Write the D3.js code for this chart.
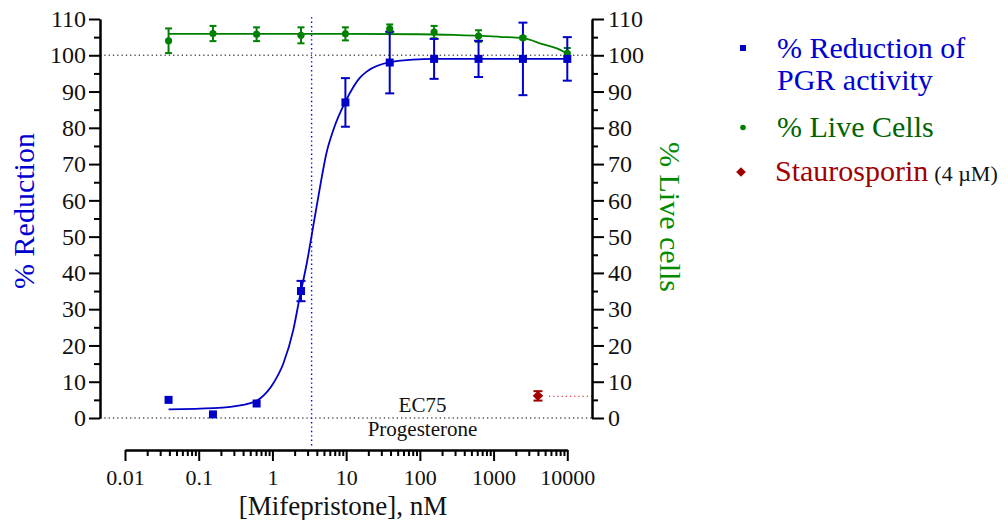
<!DOCTYPE html>
<html>
<head>
<meta charset="utf-8">
<script src="https://cdn.jsdelivr.net/npm/d3@7"></script>
<style>
  body { margin: 0; background: #fff; }
  svg text { font-family: "Liberation Serif", "Times New Roman", Times, "DejaVu Serif", serif !important; }
</style>
</head>
<body>
<div id="chart"></div>
<script>
const width = 1008, height = 520;

// concentrations (nM), 4-fold dilution series
const conc = [0.039, 0.156, 0.61, 2.44, 9.77, 39, 156, 625, 2500, 10000];
const reduction = [5, 1, 4, 35, 87, 98, 99, 99, 99, 99];
const reductionErr = [0, 0, 0, 2.8, 6.7, 8.5, 5.5, 5, 10, 6];
const liveCells = [104, 106, 105.8, 105.5, 105.9, 107.3, 106.4, 105.3, 104.8, 100.5];
const liveErr = [3.4, 2.1, 1.9, 2.2, 1.8, 1.2, 1.7, 1.6, 0.4, 1.5];

// fitted curves
const fitRedX = [0.039, 0.16, 0.4, 0.68, 1.03, 1.41, 1.92, 2.35, 2.92, 3.7, 4.43, 5.4, 6.7, 9.77, 15.5, 19, 39, 80, 156, 10000];
const fitRedY = [2.4, 2.7, 3.6, 5.4, 9.6, 15.1, 24.3, 33.4, 42.6, 54.6, 63.8, 73, 79.4, 87.2, 93.9, 95.5, 98.1, 98.8, 99, 99];
const fitLiveX = [0.039, 10, 100, 300, 625, 1200, 2500, 4740, 7200, 10000];
const fitLiveY = [105.9, 105.9, 105.8, 105.6, 105.4, 105.1, 104.7, 103.0, 101.9, 100.5];

// staurosporin control
const stauroConc = [4000];
const stauroVal = [6.1];
const stauroErr = [1.3];

const ec50 = 3.4;
const refLines = [0, 100];

const xTicks = [0.01, 0.1, 1, 10, 100, 1000, 10000];
const xTickLabels = ["0.01", "0.1", "1", "10", "100", "1000", "10000"];
const yTicks = [0, 10, 20, 30, 40, 50, 60, 70, 80, 90, 100, 110];

const blue = "#0000c8", green = "#008000", red = "#a00000";
const diamond = d3.symbolDiamond2 || d3.symbolDiamond;

const x = d3.scaleLog().domain([0.01, 10000]).range([125, 567.3]);
const y = d3.scaleLinear().domain([0, 110]).range([418, 19]);
const leftX = 100, rightX = 592, axisY = 450;

const svg = d3.select("#chart").append("svg")
  .attr("width", width).attr("height", height);

// reference lines
svg.selectAll(".ref").data(refLines).join("line")
  .attr("x1", leftX).attr("x2", rightX)
  .attr("y1", d => y(d)).attr("y2", d => y(d))
  .attr("stroke", "#555").attr("stroke-width", 1.3).attr("stroke-dasharray", "1.3,3");
svg.append("line")
  .attr("x1", x(ec50)).attr("x2", x(ec50))
  .attr("y1", y(110.5)).attr("y2", axisY - 3)
  .attr("stroke", "#0000ff").attr("stroke-width", 1.4).attr("stroke-dasharray", "1.4,3");
svg.append("line")
  .attr("x1", x(stauroConc[0]) + 11).attr("x2", rightX)
  .attr("y1", y(6)).attr("y2", y(6))
  .attr("stroke", "#d00000").attr("stroke-width", 1.2).attr("stroke-dasharray", "1.2,3");

// axes
function styleAxis(g, size) {
  g.select(".domain").attr("stroke-width", 2);
  g.selectAll(".tick line").attr("stroke-width", 2);
  g.selectAll("text").attr("font-size", size).attr("fill", "#111");
}
svg.append("g").attr("transform", `translate(${leftX},0)`)
  .call(d3.axisLeft(y).tickValues(yTicks).tickSize(11).tickSizeOuter(0).tickPadding(3))
  .call(g => styleAxis(g, 24));
svg.append("g").attr("transform", `translate(${leftX},0)`)
  .call(d3.axisLeft(y).tickValues(d3.range(5, 110, 10)).tickSize(6).tickSizeOuter(0).tickFormat(""))
  .call(g => styleAxis(g, 24));
svg.append("g").attr("transform", `translate(${rightX},0)`)
  .call(d3.axisRight(y).tickValues(yTicks).tickSize(12).tickSizeOuter(0).tickPadding(4))
  .call(g => styleAxis(g, 24));
svg.append("g").attr("transform", `translate(${rightX},0)`)
  .call(d3.axisRight(y).tickValues(d3.range(5, 110, 10)).tickSize(6).tickSizeOuter(0).tickFormat(""))
  .call(g => styleAxis(g, 24));

const minorX = [];
[0.01, 0.1, 1, 10, 100, 1000].forEach(d => { for (let k = 2; k < 10; k++) minorX.push(d * k); });
svg.append("g").attr("transform", `translate(0,${axisY})`)
  .call(d3.axisBottom(x).tickValues(xTicks).tickSize(11).tickSizeOuter(0).tickPadding(8)
    .tickFormat((d, i) => xTickLabels[i]))
  .call(g => styleAxis(g, 22));
svg.append("g").attr("transform", `translate(0,${axisY})`)
  .call(d3.axisBottom(x).tickValues(minorX).tickSize(6).tickSizeOuter(0).tickFormat(""))
  .call(g => styleAxis(g, 22));

// fitted curves
const line = d3.line().x(d => x(d[0])).y(d => y(d[1])).curve(d3.curveMonotoneX);
svg.append("path").datum(fitLiveX.map((d, i) => [d, fitLiveY[i]]))
  .attr("d", line).attr("fill", "none").attr("stroke", green).attr("stroke-width", 1.8);
svg.append("path").datum(fitRedX.map((d, i) => [d, fitRedY[i]]))
  .attr("d", line).attr("fill", "none").attr("stroke", blue).attr("stroke-width", 1.8);

// error bars
function errorBars(xs, ys, es, color, cap) {
  const data = xs.map((d, i) => ({ x: d, y: ys[i], e: es[i] })).filter(d => d.e > 0);
  const g = svg.append("g").attr("stroke", color).attr("stroke-width", 2);
  g.selectAll(".v").data(data).join("line")
    .attr("x1", d => x(d.x)).attr("x2", d => x(d.x))
    .attr("y1", d => y(d.y - d.e)).attr("y2", d => y(d.y + d.e));
  ["lo", "hi"].forEach(k => {
    g.selectAll("." + k).data(data).join("line")
      .attr("x1", d => x(d.x) - cap).attr("x2", d => x(d.x) + cap)
      .attr("y1", d => y(k === "lo" ? d.y - d.e : d.y + d.e))
      .attr("y2", d => y(k === "lo" ? d.y - d.e : d.y + d.e));
  });
}
errorBars(conc, liveCells, liveErr, green, 3.5);
errorBars(conc, reduction, reductionErr, blue, 4.5);
errorBars(stauroConc, stauroVal, stauroErr, red, 4.5);

// markers
svg.selectAll(".live").data(conc).join("circle")
  .attr("cx", d => x(d)).attr("cy", (d, i) => y(liveCells[i])).attr("r", 3.6)
  .attr("fill", green);
svg.selectAll(".red").data(conc).join("rect")
  .attr("x", d => x(d) - 4).attr("y", (d, i) => y(reduction[i]) - 4)
  .attr("width", 8).attr("height", 8).attr("fill", blue);
svg.selectAll(".stau").data(stauroConc).join("path")
  .attr("transform", (d, i) => `translate(${x(d)},${y(stauroVal[i])})`)
  .attr("d", d3.symbol(diamond, 70)()).attr("fill", red);

// annotations
svg.append("text").attr("x", 422.5).attr("y", 412).attr("text-anchor", "middle")
  .attr("font-size", 21).attr("fill", "#111").text("EC75");
svg.append("text").attr("x", 422.5).attr("y", 435.5).attr("text-anchor", "middle")
  .attr("font-size", 21).attr("fill", "#111").text("Progesterone");

// axis titles
svg.append("text").attr("x", 343).attr("y", 515).attr("text-anchor", "middle")
  .attr("font-size", 27).attr("fill", "#111").text("[Mifepristone], nM");
svg.append("text").attr("transform", "translate(34,211) rotate(-90)").attr("text-anchor", "middle")
  .attr("font-size", 30).attr("fill", "#0000d0").text("% Reduction");
svg.append("text").attr("transform", "translate(660,217) rotate(90)").attr("text-anchor", "middle")
  .attr("font-size", 30).attr("fill", "#008a00").text("% Live cells");

// legend
const lg = svg.append("g");
lg.append("rect").attr("x", 740).attr("y", 45).attr("width", 6).attr("height", 6).attr("fill", blue);
lg.append("text").attr("x", 777).attr("y", 58).attr("font-size", 30).attr("fill", "#0000d0").text("% Reduction of");
lg.append("text").attr("x", 777).attr("y", 90).attr("font-size", 30).attr("fill", "#0000d0").text("PGR activity");
lg.append("circle").attr("cx", 743).attr("cy", 127.5).attr("r", 2.8).attr("fill", green);
lg.append("text").attr("x", 777).attr("y", 137).attr("font-size", 30).attr("fill", "#006400").text("% Live Cells");
lg.append("path").attr("transform", "translate(741,172)")
  .attr("d", d3.symbol(diamond, 60)()).attr("fill", red);
const st = lg.append("text").attr("x", 775).attr("y", 181).attr("font-size", 30);
st.append("tspan").attr("fill", red).text("Staurosporin");
st.append("tspan").attr("fill", "#111").attr("font-size", 22).attr("dx", 6).text("(4 µM)");
</script>
</body>
</html>
